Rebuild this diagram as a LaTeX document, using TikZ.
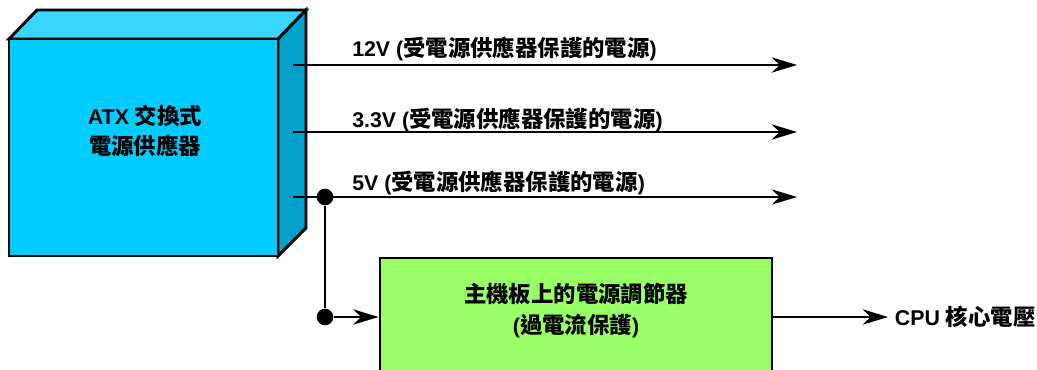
\documentclass[tikz,border=0pt]{standalone}
\usepackage{fontspec}
\setmainfont{Liberation Sans}
\newfontfamily\cjk[Scale=1.05]{Noto Sans CJK TC}
\usetikzlibrary{arrows.meta}
\definecolor{psufront}{HTML}{00CCFF}
\definecolor{psutop}{HTML}{38D6FF}
\definecolor{psuside}{HTML}{00A0CC}
\definecolor{regfill}{HTML}{99FF66}
\tikzset{
  lbl/.style={font=\bfseries\fontsize{16}{19}\selectfont, inner sep=0pt},
  conn/.style={line width=2pt},
  arr/.style={line width=2pt, -{Stealth[length=19pt, width=11.5pt, inset=6pt]}},
  jdot/.style={circle, fill=black, inner sep=0pt, minimum size=12.5pt},
  boxline/.style={draw=black, line width=2.2pt, line join=miter},
}
\begin{document}
\begin{tikzpicture}[x=0.75pt, y=-0.75pt]
\useasboundingbox (0,0) rectangle (1037,370);
\clip (0,0) rectangle (1037,370);
% ATX power supply (3D box)
\filldraw[boxline, fill=psutop] (9,39) -- (37,10) -- (306,10) -- (278,39) -- cycle;
\filldraw[boxline, fill=psuside] (278,39) -- (306,10) -- (306,228) -- (278,256) -- cycle;
\node[boxline, fill=psufront, minimum width=201.75pt, minimum height=162.75pt, inner sep=0pt] (psu) at (143.5,147.5) {};
\node[lbl, align=center, font=\bfseries\fontsize{16}{22.5}\selectfont] (psutext) at (145,131) {ATX {\cjk 交換式}\\{\cjk 電源供應器}};
% output rails
\coordinate (o12) at (293,65);
\coordinate (o33) at (293,132);
\coordinate (o5) at (293,197);
\coordinate (e12) at (797,65);
\coordinate (e33) at (797,132);
\coordinate (e5) at (797,197);
\draw[arr] (o12) -- (e12);
\draw[arr] (o33) -- (e33);
\draw[arr] (o5) -- (e5);
\node[lbl, anchor=west] (l12) at (352,48.5) {12V ({\cjk 受電源供應器保護的電源})};
\node[lbl, anchor=west] (l33) at (352,119.5) {3.3V ({\cjk 受電源供應器保護的電源})};
\node[lbl, anchor=west] (l5) at (352,183) {5V ({\cjk 受電源供應器保護的電源})};
% regulator
\node[boxline, fill=regfill, minimum width=294pt, minimum height=106.5pt, inner sep=0pt] (reg) at (576,329) {};
\node[lbl, align=center, font=\bfseries\fontsize{16}{23}\selectfont] (regtext) at (576,310.5) {{\cjk 主機板上的電源調節器}\\({\cjk 過電流保護})};
% junction
\node[jdot] (j1) at (325,197) {};
\node[jdot] (j2) at (325,317) {};
\draw[conn] (j1) -- (j2);
\draw[arr] (j2) -- (j2 -| reg.west);
% output
\node[lbl, anchor=west, inner xsep=5pt] (cpu) at (888,317) {CPU {\cjk 核心電壓}};
\draw[arr] (reg.east |- j2) -- (cpu.west);
\end{tikzpicture}
\end{document}
